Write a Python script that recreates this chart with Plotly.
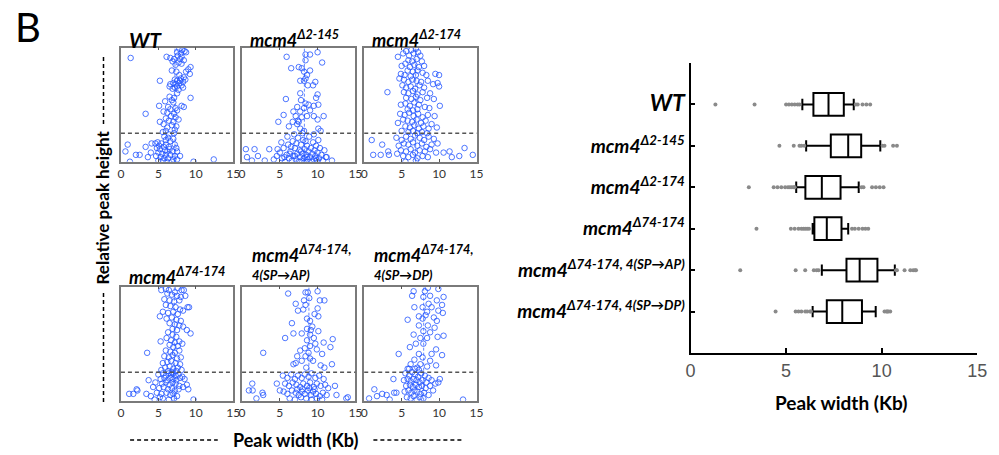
import plotly.graph_objects as go

# ---------------- data ----------------
# scatter panels: (peak width Kb, relative peak height)
pts_wt = [
    (7.8,0.99),(8.2,0.98),(8.5,0.97),(7.5,0.96),(8.7,0.96),(8.0,0.95),(7.6,0.93),(8.1,0.92),(6.1,0.92),(6.6,0.91),
    (7.1,0.90),(7.9,0.90),(8.4,0.89),(6.9,0.88),(7.7,0.87),(8.1,0.86),(7.3,0.85),(9.3,0.83),(9.0,0.81),(6.8,0.80),
    (7.4,0.79),(8.7,0.79),(9.2,0.77),(7.8,0.76),(8.4,0.74),(8.0,0.73),(7.2,0.72),(5.2,0.71),(7.5,0.71),(8.3,0.70),
    (7.0,0.69),(7.8,0.69),(6.6,0.68),(8.1,0.67),(7.5,0.66),(7.2,0.65),(8.3,0.65),(6.9,0.64),(7.7,0.63),(6.5,0.66),
    (7.9,0.71),(7.3,0.68),(8.6,0.72),(7.5,0.60),(9.3,0.56),(6.5,0.57),(7.1,0.56),(6.8,0.54),(5.9,0.53),(7.0,0.52),
    (8.4,0.48),(5.1,0.49),(6.3,0.48),(7.3,0.47),(6.6,0.46),(7.5,0.45),(8.1,0.49),(5.7,0.44),(6.2,0.43),(7.1,0.42),
    (3.3,0.42),(6.7,0.40),(7.3,0.39),(6.0,0.38),(7.7,0.37),(6.4,0.36),(5.2,0.35),(7.0,0.35),(5.7,0.33),(6.8,0.32),
    (7.4,0.31),(6.2,0.30),(7.2,0.28),(6.0,0.27),(5.6,0.26),(7.1,0.25),(6.4,0.24),
    (5.8,0.22),(6.3,0.21),(7.0,0.20),(6.0,0.19),(6.6,0.18),(4.9,0.17),(5.4,0.16),(6.0,0.15),(7.2,0.15),(4.1,0.16),
    (4.6,0.16),(5.7,0.13),(6.4,0.13),(7.4,0.12),(4.8,0.12),(5.2,0.11),(5.9,0.10),(6.2,0.09),(6.9,0.09),(5.0,0.08),
    (5.5,0.07),(6.0,0.06),(6.6,0.06),(7.2,0.05),(4.7,0.05),(5.3,0.04),(5.8,0.03),(6.3,0.03),(7.0,0.02),(5.6,0.01),
    (6.1,0.00),(5.0,0.01),(6.8,0.00),(4.0,0.08),(3.6,0.04),(7.5,0.02),(7.9,0.05),(7.5,0.09),(5.1,0.14),(6.5,0.11),
    (1.3,0.91),(0.9,0.15),(0.6,0.09),(2.0,0.06),(3.3,0.13),(9.7,0.00),(12.4,0.02),(1.2,0.00),(2.5,0.06)]

pts_d2_145 = [
    (5.9,0.92),(8.4,0.94),(9.0,0.94),(10.0,0.96),(8.4,0.89),(10.6,0.87),(6.5,0.82),(7.5,0.83),(7.9,0.82),(9.0,0.80),
    (8.2,0.79),(8.6,0.76),(8.4,0.73),(7.7,0.71),(8.2,0.71),(9.7,0.70),(8.7,0.67),(9.4,0.67),(7.7,0.60),(10.0,0.59),
    (9.8,0.56),(5.8,0.55),(7.8,0.54),(8.4,0.51),(8.8,0.50),(9.5,0.49),(10.1,0.50),(7.3,0.48),(8.2,0.47),(9.0,0.45),
    (6.8,0.44),(7.7,0.44),(8.6,0.40),(9.5,0.40),(10.8,0.40),(5.5,0.41),(7.1,0.40),(7.9,0.39),(10.0,0.37),(6.7,0.35),
    (7.3,0.33),(4.8,0.35),(6.2,0.31),(7.7,0.29),(10.1,0.29),(8.2,0.27),(10.4,0.27),(7.4,0.36),(7.5,0.35),
    (4.2,0.02),(4.6,0.05),(5.0,0.08),(5.3,0.03),(5.5,0.12),(5.7,0.00),(5.9,0.06),(6.1,0.15),(6.2,0.03),(6.4,0.09),
    (6.6,0.01),(6.7,0.18),(6.8,0.05),(7.0,0.12),(7.1,0.02),(7.3,0.07),(7.4,0.21),(7.5,0.00),(7.6,0.10),(7.7,0.04),
    (7.8,0.15),(7.9,0.01),(8.0,0.07),(8.1,0.19),(8.2,0.03),(8.3,0.11),(8.4,0.00),(8.5,0.06),(8.6,0.14),(8.7,0.02),
    (8.8,0.09),(8.9,0.22),(9.0,0.04),(9.1,0.12),(9.2,0.00),(9.3,0.07),(9.4,0.17),(9.5,0.02),(9.6,0.10),(9.7,0.05),
    (9.8,0.14),(9.9,0.01),(10.0,0.08),(10.2,0.03),(10.3,0.12),(10.5,0.06),(10.7,0.01),(10.9,0.10),(11.1,0.04),(6.0,0.22),
    (6.9,0.24),(8.0,0.25),(9.5,0.24),(7.2,0.16),(8.4,0.18),(5.2,0.17),(10.1,0.19),(6.5,0.13),(7.8,0.09),(8.6,0.04),
    (9.8,0.03),(7.0,0.05),(5.6,0.04),(6.3,0.07),
    (0.5,0.11),(1.65,0.11),(0.65,0.04),(2.1,0.05),(1.3,0.01),(3.0,0.01),(3.6,0.11),(4.7,0.11),(11.9,0.01),(11.2,0.04)]

pts_d2_174 = [
    (4.5,0.92),(5.2,0.95),(5.6,0.97),(6.0,0.93),(6.3,0.98),(6.6,0.95),(6.9,0.99),(7.2,0.96),(7.5,0.93),(5.9,0.89),
    (6.4,0.88),(7.0,0.90),(7.7,0.88),(5.0,0.84),(5.5,0.86),(6.1,0.83),(6.7,0.85),(7.3,0.83),(8.0,0.84),(5.8,0.80),
    (6.5,0.79),(7.1,0.80),(7.8,0.78),(9.5,0.77),(10.0,0.76),(4.9,0.77),(5.4,0.76),(6.2,0.75),(6.9,0.76),(8.3,0.76),
    (4.7,0.73),(5.3,0.72),(5.9,0.70),(6.4,0.72),(7.0,0.71),(7.6,0.70),(8.5,0.71),(9.2,0.68),(9.8,0.69),(5.1,0.67),
    (5.6,0.65),(6.2,0.66),(6.8,0.64),(7.4,0.67),(8.0,0.65),(10.0,0.66),(5.3,0.61),(5.9,0.60),(6.5,0.62),(7.1,0.59),
    (7.8,0.61),(8.8,0.60),(3.1,0.61),(5.6,0.56),(6.3,0.55),(6.9,0.57),(7.5,0.54),(8.4,0.56),(9.3,0.55),(4.9,0.50),
    (5.5,0.51),(6.1,0.49),(6.7,0.52),(7.3,0.50),(8.1,0.48),(10.1,0.49),(5.8,0.46),(6.5,0.45),(7.1,0.46),(8.7,0.47),
    (4.8,0.42),(5.4,0.41),(6.0,0.43),(6.6,0.40),(7.2,0.42),(7.8,0.39),(8.5,0.41),(9.4,0.40),(4.5,0.34),(5.2,0.37),
    (5.8,0.36),(6.4,0.35),(7.0,0.37),(7.6,0.34),(8.2,0.36),(9.0,0.33),(5.5,0.31),(6.1,0.30),(6.7,0.32),(7.3,0.29),
    (7.9,0.31),(8.6,0.29),(9.7,0.30),(5.0,0.27),(5.9,0.26),(6.5,0.27),(7.1,0.25),(7.7,0.26),(8.4,0.25),
    (4.3,0.21),(5.0,0.19),(5.6,0.22),(6.2,0.20),(6.8,0.23),(7.4,0.21),(8.0,0.19),(8.6,0.22),(9.3,0.20),(4.6,0.14),
    (5.3,0.16),(5.9,0.15),(6.5,0.17),(7.1,0.14),(7.7,0.16),(8.3,0.13),(9.0,0.15),(9.8,0.16),(4.9,0.10),(5.6,0.09),
    (6.2,0.11),(6.8,0.08),(7.4,0.10),(8.1,0.09),(8.8,0.11),(9.6,0.08),(5.2,0.05),(5.9,0.04),(6.5,0.06),(7.1,0.03),
    (7.8,0.05),(8.5,0.04),(4.4,0.07),(6.9,0.01),(5.5,0.00),
    (1.0,0.19),(2.4,0.15),(1.2,0.06),(2.2,0.06),(3.2,0.09),(3.3,0.06),(10.6,0.08),(11.4,0.09),(11.7,0.04),(12.7,0.05),
    (13.4,0.12),(14.5,0.06)]

pts_d74_174 = [
    (5.4,0.97),(6.0,0.98),(6.4,0.97),(7.6,0.99),(8.1,0.97),(8.4,0.97),(7.2,0.95),(6.2,0.94),(6.8,0.93),(7.5,0.92),
    (8.0,0.91),(8.6,0.92),(5.8,0.89),(6.5,0.88),(7.1,0.87),(7.8,0.88),(8.9,0.82),(9.1,0.82),(6.0,0.84),(6.6,0.83),
    (7.3,0.82),(7.9,0.80),(8.3,0.79),(5.6,0.78),(6.3,0.77),(7.0,0.78),(7.6,0.76),(5.2,0.74),(6.1,0.72),(6.8,0.73),
    (7.4,0.71),(8.0,0.70),(6.5,0.68),(7.2,0.67),(7.8,0.66),(8.3,0.65),(6.9,0.63),(7.5,0.62),(8.8,0.62),(9.3,0.59),
    (6.3,0.60),(6.9,0.58),(7.4,0.56),(5.3,0.52),(6.1,0.55),(6.7,0.53),(7.2,0.51),(7.8,0.52),(6.5,0.49),(7.0,0.47),
    (7.6,0.48),(8.2,0.50),
    (3.5,0.42),(6.0,0.44),(6.6,0.43),(7.2,0.42),(7.8,0.44),(5.8,0.39),(6.4,0.38),(6.9,0.40),(7.5,0.37),(8.0,0.38),
    (5.6,0.33),(6.2,0.34),(6.7,0.35),(7.3,0.33),(7.9,0.32),(5.9,0.29),(6.5,0.30),(7.0,0.28),(7.6,0.29),(5.4,0.27),
    (6.3,0.26),(6.8,0.25),(7.4,0.26),(8.1,0.27),
    (5.0,0.23),(5.6,0.24),(6.0,0.22),(6.4,0.24),(6.7,0.23),(7.0,0.24),(7.3,0.22),(7.7,0.23),(8.2,0.21),(5.3,0.19),
    (5.8,0.20),(6.2,0.18),(6.6,0.20),(7.0,0.19),(7.4,0.18),(7.9,0.20),(8.5,0.19),(4.6,0.16),(5.5,0.15),(6.0,0.16),
    (6.5,0.14),(6.9,0.16),(7.3,0.15),(7.8,0.13),(8.8,0.14),(5.1,0.11),(5.7,0.12),(6.3,0.10),(6.8,0.11),(7.2,0.09),
    (7.7,0.10),(8.3,0.12),(4.8,0.07),(5.4,0.06),(6.1,0.07),(6.6,0.05),(7.0,0.06),(7.5,0.04),(5.6,0.02),(6.4,0.01),
    (7.1,0.02),(5.2,0.03),
    (3.7,0.18),(2.1,0.10),(1.65,0.06),(1.1,0.06),(2.2,0.09),(3.4,0.06),(4.0,0.04),(4.5,0.01),(9.7,0.01),(9.0,0.10),
    (4.3,0.12)]

pts_ap = [
    (6.1,0.94),(8.4,0.95),(8.7,0.95),(10.0,0.96),(8.2,0.88),(10.3,0.88),(10.9,0.88),(7.1,0.85),(8.4,0.84),(7.4,0.79),
    (8.1,0.80),(10.0,0.81),(9.6,0.76),(10.1,0.74),(8.6,0.72),(6.6,0.68),(9.0,0.70),(9.3,0.65),(8.6,0.63),(10.1,0.61),
    (6.8,0.59),(7.9,0.59),(9.0,0.58),(5.7,0.55),(9.5,0.55),(12.0,0.54),(8.6,0.53),(9.7,0.50),(10.8,0.51),(9.0,0.48),
    (8.3,0.46),(9.9,0.45),(11.7,0.47),(7.7,0.44),(10.6,0.41),(7.3,0.39),(8.4,0.39),(9.0,0.37),(7.1,0.33),(7.9,0.35),
    (9.4,0.35),(6.8,0.32),(10.4,0.31),(11.9,0.32),(8.5,0.29),(10.9,0.29),(2.8,0.42),(8.9,0.90),(9.1,0.62),(8.8,0.42),
    (5.4,0.22),(6.0,0.20),(6.5,0.23),(7.0,0.19),(7.4,0.22),(7.9,0.20),(8.3,0.23),(8.8,0.21),(9.2,0.24),(9.7,0.20),
    (10.2,0.22),(10.8,0.19),(5.7,0.15),(6.2,0.13),(6.7,0.16),(7.2,0.14),(7.7,0.12),(8.1,0.15),(8.6,0.13),(9.0,0.16),
    (9.5,0.12),(9.9,0.15),(10.4,0.13),(11.0,0.14),(11.4,0.11),(5.5,0.08),(6.0,0.06),(6.6,0.09),(7.1,0.07),(7.5,0.05),
    (7.9,0.08),(8.3,0.06),(8.7,0.09),(9.1,0.05),(9.4,0.08),(9.8,0.06),(10.3,0.04),(10.7,0.07),(11.2,0.05),(6.3,0.02),
    (7.0,0.01),(7.8,0.03),(8.5,0.02),(9.2,0.01),(9.9,0.02),(10.6,0.01),(8.0,0.10),(8.9,0.11),(7.3,0.10),(9.6,0.10),
    (1.35,0.15),(0.9,0.09),(1.4,0.09),(2.7,0.07),(2.8,0.05),(1.9,0.02),(5.0,0.09),(4.6,0.15),(12.3,0.13),(12.5,0.05),
    (14.0,0.03),(13.8,0.02)]

pts_dp = [
    (6.6,0.96),(8.1,0.96),(8.5,0.99),(9.9,0.98),(6.4,0.92),(7.9,0.91),(8.8,0.92),(10.6,0.91),(9.7,0.88),(8.6,0.85),
    (6.7,0.82),(7.8,0.82),(9.0,0.82),(10.4,0.84),(8.4,0.78),(9.9,0.79),(10.5,0.77),(7.3,0.74),(8.2,0.75),(9.3,0.73),
    (5.8,0.71),(7.8,0.72),(9.7,0.70),(8.5,0.66),(7.3,0.66),(9.4,0.64),(7.9,0.61),(6.6,0.58),(8.8,0.60),(10.6,0.57),
    (9.8,0.56),(7.5,0.55),(8.4,0.55),(6.9,0.50),(7.9,0.50),(9.6,0.45),(6.1,0.47),(9.0,0.41),(10.4,0.40),(4.6,0.41),
    (7.3,0.41),(7.8,0.38),(6.7,0.36),(8.8,0.35),(7.5,0.32),(9.6,0.31),(6.2,0.32),(7.1,0.29),(8.4,0.30),(5.8,0.28),
    (5.5,0.24),(6.0,0.22),(6.4,0.25),(6.8,0.23),(7.2,0.21),(7.6,0.24),(8.1,0.22),(8.6,0.20),(5.3,0.18),(5.8,0.19),
    (6.2,0.17),(6.6,0.19),(7.0,0.18),(7.4,0.16),(7.8,0.18),(8.3,0.16),(9.0,0.18),(5.6,0.13),(6.1,0.14),(6.5,0.12),
    (6.9,0.14),(7.3,0.12),(7.7,0.13),(8.2,0.11),(8.8,0.13),(5.4,0.08),(5.9,0.09),(6.3,0.07),(6.7,0.09),(7.1,0.08),
    (7.5,0.06),(8.0,0.07),(8.6,0.05),(5.7,0.03),(6.2,0.02),(6.6,0.04),(7.0,0.01),(7.4,0.03),(7.9,0.02),(6.8,0.28),
    (7.3,0.27),(6.0,0.28),
    (3.9,0.19),(1.35,0.10),(2.4,0.06),(3.0,0.05),(4.0,0.07),(4.3,0.07),(0.65,0.02),(1.7,0.04),(3.4,0.01),(10.1,0.19),
    (9.9,0.16),(9.5,0.15),(9.2,0.09),(13.2,0.01)]

# box plot summary (Kb)
box_labels = ["<b><i><span style=\"font-size:23px\">WT</span></i></b>",
              "<b><i>mcm4<sup>Δ2-145</sup></i></b>",
              "<b><i>mcm4<sup>Δ2-174</sup></i></b>",
              "<b><i>mcm4<sup>Δ74-174</sup></i></b>",
              "<b><i>mcm4<sup>Δ74-174, 4(SP→AP)</sup></i></b>",
              "<b><i>mcm4<sup>Δ74-174, 4(SP→DP)</sup></i></b>"]
box_pos = [1, 2, 3, 4, 5, 6]
box_low = [5.85, 6.05, 5.53, 6.39, 6.87, 6.39]
box_q1 = [6.43, 7.34, 6.01, 6.48, 8.16, 7.13]
box_med = [7.22, 8.25, 6.87, 7.13, 8.85, 7.94]
box_q3 = [8.02, 8.93, 7.85, 7.90, 9.78, 8.97]
box_high = [8.54, 9.93, 8.80, 8.25, 10.69, 9.69]
outliers = [
    [1.3, 3.35, 5.0, 5.15, 5.3, 5.45, 5.6, 5.7, 8.65, 8.75, 9.0, 9.2, 9.4],
    [4.65, 5.4, 5.7, 5.8, 5.95, 10.05, 10.15, 10.6, 10.8],
    [3.05, 4.35, 4.55, 4.75, 4.95, 5.1, 5.2, 5.3, 5.4, 5.45, 8.95, 9.05, 9.5, 9.7, 9.9, 10.1],
    [3.45, 5.25, 5.45, 5.65, 5.8, 5.9, 6.0, 6.1, 6.2, 8.45, 8.6, 8.8, 9.0, 9.15, 9.3],
    [2.6, 5.5, 6.0, 6.45, 6.6, 6.7, 10.75, 10.8, 11.2, 11.5, 11.65, 11.75, 11.8],
    [4.45, 5.5, 5.65, 5.8, 6.0, 6.1, 6.25, 6.3, 10.15, 10.25, 10.3, 10.35, 10.45]]

height_cutoff = 0.25
panel_titles = ["<b><i><span style=\"font-size:21px\">WT</span></i></b>",
                "<b><i>mcm4<sup>Δ2-145</sup></i></b>",
                "<b><i>mcm4<sup>Δ2-174</sup></i></b>",
                "<b><i>mcm4<sup>Δ74-174</sup></i></b>",
                "<b><i>mcm4<sup>Δ74-174,</sup></i></b>",
                "<b><i>mcm4<sup>Δ74-174,</sup></i></b>"]
panel_sub = ["", "", "", "", "<b><i>4(SP→AP)</i></b>", "<b><i>4(SP→DP)</i></b>"]
x_ticks = [0, 5, 10, 15]

# ---------------- figure ----------------
W, H = 999, 455
def px(x): return x / W
def py(y): return 1 - y / H

def ax_id(k):
    return "" if k == 1 else str(k)

panels = [pts_wt, pts_d2_145, pts_d2_174, pts_d74_174, pts_ap, pts_dp]
xdom = [(117.7, 231.7), (240.7, 355.7), (364.7, 478.7)]
ydom = [(47.7, 161.7), (286.7, 400.7)]

fig = go.Figure()
layout = dict(width=W, height=H, margin=dict(l=0, r=0, t=0, b=0),
              paper_bgcolor="white", plot_bgcolor="white", showlegend=False)
shapes = []
annotations = []
blue = "rgba(35,85,255,0.8)"

def ann(text, x, y, size, xanchor="center", angle=0, family="Lato"):
    annotations.append(dict(text=text, x=px(x), y=py(y), xref="paper", yref="paper",
                            xanchor=xanchor, yanchor="middle", showarrow=False, textangle=angle,
                            font=dict(family=family, size=size, color="black")))

for i, pts in enumerate(panels):
    k = i + 1
    s = ax_id(k)
    col, row = i % 3, i // 3
    xs = [p[0] for p in pts]
    ys = [p[1] for p in pts]
    fig.add_trace(go.Scatter(x=xs, y=ys, mode="markers", xaxis="x" + s, yaxis="y" + s,
                             marker=dict(symbol="circle-open", size=5.5, color=blue, line=dict(width=1, color=blue)),
                             cliponaxis=True, hoverinfo="skip"))
    x0, x1 = xdom[col]
    y0, y1 = ydom[row]
    layout["xaxis" + s] = dict(domain=[px(x0), px(x1)], anchor="y" + s, range=[0, 15],
                               tickvals=x_ticks, ticks="inside", ticklen=3, tickcolor="#555",
                               showline=True, linecolor="#7a7a7a", linewidth=1.5, mirror="ticks",
                               showgrid=False, zeroline=False,
                               tickfont=dict(family="Lato", size=12, color="#333"))
    layout["yaxis" + s] = dict(domain=[py(y1), py(y0)], anchor="x" + s, range=[0, 1],
                               showticklabels=False, ticks="", showline=True, linecolor="#7a7a7a",
                               linewidth=1.5, mirror=True, showgrid=False, zeroline=False)
    # cutoff line
    shapes.append(dict(type="line", xref="x" + s + " domain", yref="y" + s, x0=0, x1=1,
                       y0=height_cutoff, y1=height_cutoff, line=dict(color="#555", width=1.5, dash="4px,3px")))
    # median line
    shapes.append(dict(type="line", xref="x" + s, yref="y" + s + " domain", x0=box_med[i], x1=box_med[i],
                       y0=0, y1=1, line=dict(color="rgba(35,85,255,0.7)", width=1, dash="3px,2px")))
    # titles
    if row == 0:
        ann(panel_titles[i], x0 + 6, 39, 18, xanchor="left")
    elif i == 3:
        ann(panel_titles[i], x0 + 6, 276, 18, xanchor="left")
    else:
        ann(panel_titles[i], x0 + 8, 254, 18, xanchor="left")
        ann(panel_sub[i], x0 + 8, 275, 13, xanchor="left")

# right box plot
fig.add_trace(go.Box(y=box_pos, q1=box_q1, median=box_med, q3=box_q3,
                     lowerfence=box_low, upperfence=box_high, orientation="h",
                     xaxis="x7", yaxis="y7", boxpoints=False, width=0.55, whiskerwidth=0.5,
                     fillcolor="white", line=dict(color="black", width=2), hoverinfo="skip"))
ox, oy = [], []
for pos, vals in zip(box_pos, outliers):
    ox += vals
    oy += [pos] * len(vals)
fig.add_trace(go.Scatter(x=ox, y=oy, mode="markers", xaxis="x7", yaxis="y7",
                         marker=dict(size=4, color="#8a8a8a"), hoverinfo="skip"))

layout["xaxis7"] = dict(domain=[px(696), px(987)], anchor="y7", range=[0, 15], tickvals=x_ticks,
                        ticks="inside", ticklen=5, tickwidth=2, tickcolor="black",
                        showline=True, linecolor="black", linewidth=2, showgrid=False, zeroline=False,
                        tickfont=dict(family="Liberation Sans", size=18, color="#555"))
layout["yaxis7"] = dict(domain=[py(353), py(63)], anchor="x7", range=[7, 0], tickvals=box_pos,
                        ticktext=box_labels, ticks="inside", ticklen=4, tickwidth=1.5, tickcolor="black",
                        showline=True, linecolor="black", linewidth=2, showgrid=False, zeroline=False,
                        tickfont=dict(family="Lato", size=19, color="black"))

ann("<b>Peak width (Kb)</b>", 849, 402, 19)
ann("B", 23, 27, 40)
ann("<b>Relative peak height</b>", 100, 207, 17, angle=-90)
ann("<b>Peak width (Kb)</b>", 295, 440, 18)

# dashed guide lines around the shared axis titles
for (a, b) in [(57, 125), (293, 402)]:
    shapes.append(dict(type="line", xref="paper", yref="paper", x0=px(100), x1=px(100), y0=py(a), y1=py(b),
                       line=dict(color="black", width=1.5, dash="4px,3px")))
for (a, b) in [(127, 216), (374, 466)]:
    shapes.append(dict(type="line", xref="paper", yref="paper", x0=px(a), x1=px(b), y0=py(440), y1=py(440),
                       line=dict(color="black", width=1.5, dash="4px,3px")))

layout["shapes"] = shapes
layout["annotations"] = annotations
fig.update_layout(**layout)
fig.write_html("out.html")
